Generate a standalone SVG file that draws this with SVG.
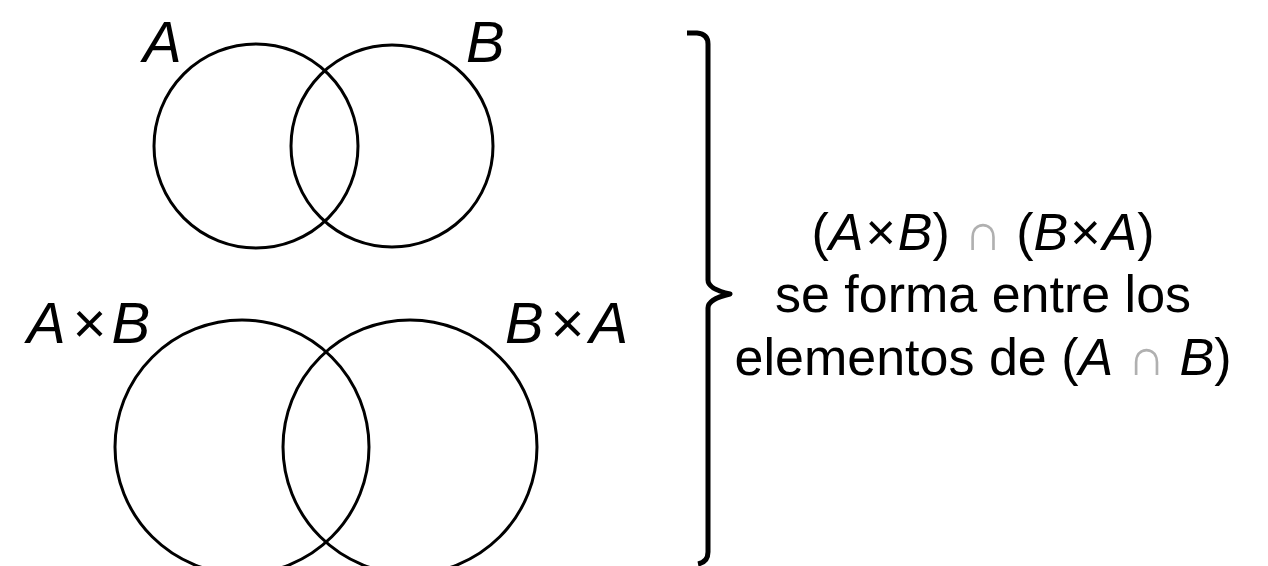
<svg xmlns="http://www.w3.org/2000/svg" width="1268" height="566" viewBox="0 0 1268 566">
<style>
.set{fill:none;stroke:#000;stroke-width:3}
.lbl{font-family:"Liberation Sans",Arial,sans-serif;font-style:italic;font-size:58px;fill:#000}
.txt{font-family:"Liberation Sans",Arial,sans-serif;font-size:52px;fill:#000;text-anchor:middle}
.it{font-style:italic}
.cap{fill:#b0b0b0}
.brace{fill:none;stroke:#000;stroke-width:5;stroke-linecap:butt;stroke-linejoin:round}
</style>
<rect width="1268" height="566" fill="#fff"/>
<g id="setA">
<circle class="set" cx="256" cy="146" r="102"/>
<text class="lbl" x="143" y="62">A</text>
</g>
<g id="setB">
<circle class="set" cx="392" cy="146" r="101"/>
<text class="lbl" x="466" y="62">B</text>
</g>
<g id="setAxB">
<circle class="set" cx="242" cy="447" r="127"/>
<text class="lbl" x="27" y="343" letter-spacing="6">A×B</text>
</g>
<g id="setBxA">
<circle class="set" cx="410" cy="447" r="127"/>
<text class="lbl" x="505" y="343" letter-spacing="6">B×A</text>
</g>
<g id="connectors">
<path id="brace" class="brace" d="M687 33 L697 33 Q708 34 708 44 L708 280 Q708 289 730 294 Q708 299 708 308 L708 552 Q708 562 698 564"/>
</g>
<g id="caption">
<text class="txt" x="983" y="250">(<tspan class="it">A</tspan><tspan dx="2">×</tspan><tspan class="it" dx="2">B</tspan>) <tspan class="cap">∩</tspan> (<tspan class="it">B</tspan><tspan dx="2">×</tspan><tspan class="it" dx="2">A</tspan>)</text>
<text class="txt" x="983" y="312">se forma entre los</text>
<text class="txt" x="983" y="375">elementos de (<tspan class="it">A</tspan> <tspan class="cap">∩</tspan> <tspan class="it">B</tspan>)</text>
</g>
</svg>
